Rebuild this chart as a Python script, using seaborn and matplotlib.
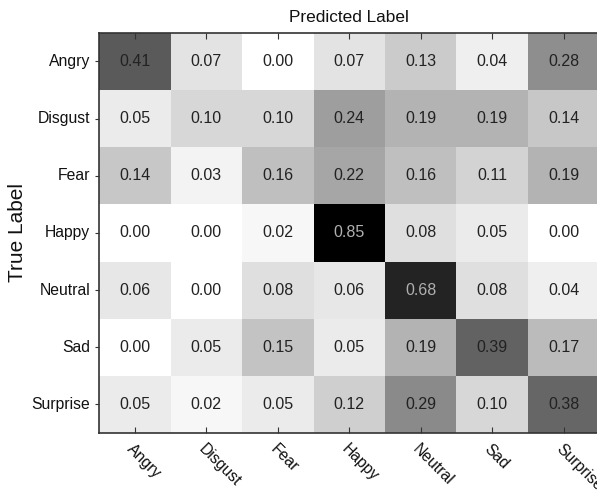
import numpy as np
import pandas as pd
import matplotlib
matplotlib.use("Agg")
import matplotlib.pyplot as plt
import seaborn as sns
from matplotlib.colors import LinearSegmentedColormap

# dati della matrice di confusione
etichette = ['Angry', 'Disgust', 'Fear', 'Happy', 'Neutral', 'Sad', 'Surprise']
riga_angry = [0.41, 0.07, 0.00, 0.07, 0.13, 0.04, 0.28]
riga_disgust = [0.05, 0.10, 0.10, 0.24, 0.19, 0.19, 0.14]
riga_fear = [0.14, 0.03, 0.16, 0.22, 0.16, 0.11, 0.19]
riga_happy = [0.00, 0.00, 0.02, 0.85, 0.08, 0.05, 0.00]
riga_neutral = [0.06, 0.00, 0.08, 0.06, 0.68, 0.08, 0.04]
riga_sad = [0.00, 0.05, 0.15, 0.05, 0.19, 0.39, 0.17]
riga_surprise = [0.05, 0.02, 0.05, 0.12, 0.29, 0.10, 0.38]

cm = pd.DataFrame([riga_angry, riga_disgust, riga_fear, riga_happy,
                   riga_neutral, riga_sad, riga_surprise],
                  index=etichette, columns=etichette)

plt.rcParams['font.family'] = ['Liberation Sans', 'DejaVu Sans']

# scala di grigi tipo MATLAB (bianco -> nero)
grigi = LinearSegmentedColormap.from_list(
    'grigi', [(0.0, '#ffffff'), (0.41 / 0.85, '#5a5a5a'), (1.0, '#000000')])

fig = plt.figure(figsize=(5.97, 4.91), dpi=100)
ax = fig.add_axes([0.166, 0.118, 0.838, 0.815])

sns.heatmap(cm, annot=True, fmt='.2f', cmap=grigi, vmin=0, vmax=0.85,
            cbar=False, ax=ax, annot_kws={'fontsize': 11.5})

# colore del testo nelle celle
for t, v in zip(ax.texts, cm.values.flatten()):
    t.set_color('#b0b0b0' if v > 0.5 else '#222222')

for lato in ['left', 'top', 'bottom', 'right']:
    ax.spines[lato].set_visible(True)
    ax.spines[lato].set_color('#333333')
    ax.spines[lato].set_linewidth(1.2)

ax.tick_params(axis='x', direction='in', top=True, bottom=True, length=4,
               color='#333333', labelsize=11.3, labelcolor='#111111', pad=6)
ax.tick_params(axis='y', direction='out', left=True, right=True, length=3,
               color='#333333', labelsize=11.3, labelcolor='#111111', rotation=0)
ax.set_xticklabels(etichette, rotation=-45, ha='left', va='top',
                   rotation_mode='anchor')

ax.set_xlabel('')
ax.set_ylabel('True Label', fontsize=15, color='#111111')
ax.yaxis.set_label_coords(-0.144, 0.5)
ax.set_title('Predicted Label', fontsize=12.4, pad=8, color='#111111')

fig.savefig('out.png', dpi=100)
